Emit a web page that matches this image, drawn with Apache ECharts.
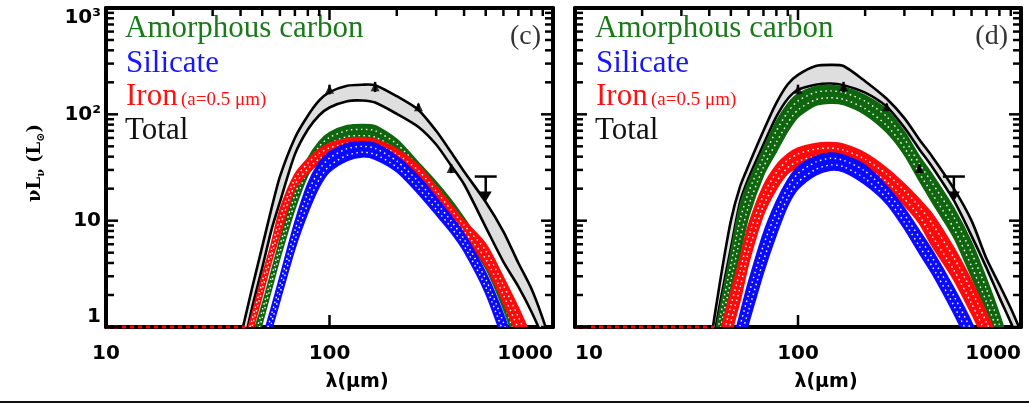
<!DOCTYPE html>
<html><head><meta charset="utf-8">
<script src="https://cdn.jsdelivr.net/npm/echarts@6/dist/echarts.min.js"></script>
<style>html,body{margin:0;padding:0;background:#fff}#chart{width:1029px;height:404px}</style>
</head><body><div id="chart"></div>
<script>
// ---------- data ----------
const wavelengths = [40,45,50,55,60,70,80,90,100,120,140,160,200,250,300,350,400,500,600,700,800,900,1000];

// panel (c)
const cTotalHi  = [0.8,2.3,5.7,13,26,60,97,135,162,186,190,188,148,110,70,44,29,15,7.9,4.0,2.3,1.2,0.6];
const cTotalLo  = [0.5,1.5,3.6,8.2,15,42,72,98,116,133,135,129,101,76,52,33,22,8.7,4.1,2.4,1.4,0.8,0.45];
const cCarbonHi = [0.4,0.8,1.6,3.3,6.5,20,38,55,67,78,80,78,58,35,23,15.5,10.5,5.2,2.3,0.85,0.35,0.15,0.07];
const cCarbonLo = [0.25,0.5,1.1,2.3,4.5,13,27,40,48,56,57,55,42,27,17,11,7.5,3.6,1.5,0.6,0.25,0.1,0.05];
const cIronHi   = [0.55,1.3,3.0,6.0,12.5,27,38,47,53,59,60,58,47,33,21,14,10,6,2.9,1.5,0.8,0.45,0.25];
const cIronLo   = [0.35,0.9,2.0,4.2,7.5,20,28,35,39,43,44,42,33,23,15,10,7.2,3.8,1.7,0.8,0.4,0.2,0.1];
const cSilHi    = [0.15,0.35,0.75,1.5,2.9,9.5,22,35,44,53,55,53,40,26,16.5,11,7.5,3.2,1.3,0.5,0.2,0.08,0.04];
const cSilLo    = [0.08,0.2,0.45,0.95,1.8,5.5,12,21,29,37,40,38,29,18,11.5,7.8,5.2,2.1,0.75,0.3,0.12,0.05,0.02];

// panel (d)
const dTotalHi  = [0.6,2.9,10,21,33,70,128,192,235,285,292,285,205,140,92,58,40,20,10,4.4,2.5,1.5,0.9];
const dTotalLo  = [0.45,1.8,5.5,15,25,52,95,140,170,190,195,188,160,118,75,47,32,15.5,7.2,3.6,1.9,1.1,0.65];
const dCarbonHi = [0.4,1.6,5,14,23,47,85,125,155,182,186,180,150,110,68,40,27,13,6.2,2.8,1.3,0.6,0.3];
const dCarbonLo = [0.2,0.8,2.1,5,11,27,45,70,95,122,128,124,100,68,42,24,15,7,3.0,1.4,0.65,0.3,0.15];
const dIronHi   = [0.3,0.9,2.1,4.4,9,21,33,42,48,53,54,52,43,31,22,15.8,11.5,5.5,2.7,1.35,0.7,0.35,0.18];
const dIronLo   = [0.1,0.3,0.85,1.8,4.0,11.5,20,28,32,36,37,35,28,20.5,14,9.5,5.8,2.8,1.35,0.7,0.4,0.22,0.12];
const dSilHi    = [0.05,0.2,0.6,1.3,2.6,7.5,15,24,32,40,43,41,33,21,13,8,5.2,2.3,1.1,0.5,0.22,0.1,0.05];
const dSilLo    = [0.02,0.07,0.25,0.6,1.1,3.3,7.5,14,20,27,30,29,22,14.5,8.5,5.0,3.2,1.35,0.6,0.25,0.1,0.04,0.02];

// observations (same in both panels)
const obsWave = [100,160,250,350];
const obsFlux = [172,182,118,31];
const obsErr  = [18,20,8,3];
const ulWave = [500];
const ulFlux = [26];
const ulArrowTo = [15.5];
const floorWave = [10,42];

// ticks
const xMajorTicks = [10,100,1000];
const xMinorTicks = [20,30,40,50,60,70,80,90,200,300,400,500,600,700,800,900];
const yMajorTicks = [1,10,100,1000];
const yTickLabels = ['1','10','10²','10³'];
const yMinorTicks = [2,3,4,5,6,7,8,9,20,30,40,50,60,70,80,90,200,300,400,500,600,700,800,900];

// ---------- layout ----------
const grids = [
  {left:106, top:8, width:447, height:319},
  {left:575, top:8, width:446, height:319}
];
const BLACK = '#000';
const AXW = 4;
const tickFont = {color:BLACK, fontFamily:'DejaVu Sans', fontWeight:'bold', fontSize:20};

const xAxes = [], yAxes = [];
grids.forEach((g, gi) => {
  const base = {type:'log', logBase:10, min:10, max:1000, gridIndex:gi, splitLine:{show:false}, minorTick:{show:false}, axisTick:{show:false}};
  xAxes.push(Object.assign({}, base, {
    position:'bottom',
    axisLine:{show:true, lineStyle:{color:BLACK, width:AXW}},
    axisLabel:{show:true, margin:17, alignMinLabel: gi === 1 ? 'left' : 'center', alignMaxLabel:'right',
      formatter: v => String(Math.round(v)), ...tickFont}
  }));
  xAxes.push(Object.assign({}, base, {
    position:'top',
    axisLine:{show:true, lineStyle:{color:BLACK, width:AXW}},
    axisLabel:{show:false}
  }));
  const ybase = {type:'log', logBase:10, min:1, max:1000, gridIndex:gi, splitLine:{show:false}, minorTick:{show:false}, axisTick:{show:false}};
  yAxes.push(Object.assign({}, ybase, {
    position:'left',
    axisLine:{show:true, lineStyle:{color:BLACK, width:AXW}},
    axisLabel:{show: gi === 0, margin:5, verticalAlignMinLabel:'bottom', verticalAlignMaxLabel:'top',
      formatter: v => yTickLabels[Math.round(Math.log10(v))], ...tickFont}
  }));
  yAxes.push(Object.assign({}, ybase, {
    position:'right',
    axisLine:{show:true, lineStyle:{color:BLACK, width:AXW}},
    axisLabel:{show:false}
  }));
});

// ---------- series builders ----------
function clipRect(cs){ return {type:'rect', shape:{x:cs.x, y:cs.y, width:cs.width, height:cs.height}}; }
const SMOOTH = 0.25;

function bandSeries(gi, hi, lo, fill, edge, edgeW, dotted, z) {
  return {
    type:'custom', xAxisIndex:gi*2, yAxisIndex:gi*2, z:z, silent:true,
    data:[[100,10]],
    renderItem:function(params, api){
      const top = wavelengths.map((w,i) => api.coord([w, hi[i]]));
      const bot = wavelengths.map((w,i) => api.coord([w, lo[i]]));
      const children = [
        {type:'polygon', shape:{points: top.concat(bot.slice().reverse()), smooth:SMOOTH}, style:{fill:fill, stroke:null}},
        {type:'polyline', shape:{points: top, smooth:SMOOTH}, style:{stroke:edge, lineWidth:edgeW, fill:null}},
        {type:'polyline', shape:{points: bot, smooth:SMOOTH}, style:{stroke:edge, lineWidth:edgeW, fill:null}}
      ];
      if (dotted) {
        [0.3, 0.7].forEach(f => {
          const mid = wavelengths.map((w,i) => api.coord([w, Math.pow(hi[i], f) * Math.pow(lo[i], 1 - f)]));
          children.push({type:'polyline', shape:{points: mid, smooth:SMOOTH},
            style:{stroke:'#ffffff', lineWidth:1.4, lineDash:[1.5, 3.5], fill:null}});
        });
      }
      return {type:'group', children:children, clipPath:clipRect(params.coordSys)};
    }
  };
}

// tick marks drawn through the axis scales (one data item per tick)
function tickSeries(gi) {
  const items = [];
  yMajorTicks.forEach(v => { items.push([10, v, 0, 12]); items.push([1000, v, 1, 12]); });
  yMinorTicks.forEach(v => { items.push([10, v, 0, 8]); items.push([1000, v, 1, 8]); });
  xMajorTicks.forEach(w => { items.push([w, 1, 2, 12]); items.push([w, 1000, 3, 12]); });
  xMinorTicks.forEach(w => { items.push([w, 1000, 3, 8]); });
  return {
    type:'custom', xAxisIndex:gi*2, yAxisIndex:gi*2, z:20, silent:true,
    data: items,
    renderItem:function(params, api){
      const p = api.coord([api.value(0), api.value(1)]);
      const side = api.value(2), len = api.value(3);
      let x2 = p[0], y2 = p[1];
      if (side === 0) x2 = p[0] + len;
      else if (side === 1) x2 = p[0] - len;
      else if (side === 2) y2 = p[1] - len;
      else y2 = p[1] + len;
      return {type:'line', shape:{x1:p[0], y1:p[1], x2:x2, y2:y2}, style:{stroke:'#000000', lineWidth:2.5}};
    }
  };
}

function obsSeries(gi) {
  return [{
    type:'custom', xAxisIndex:gi*2, yAxisIndex:gi*2, z:9, silent:true,
    data: obsWave.map((w,i) => [w, obsFlux[i], obsErr[i]]),
    renderItem:function(params, api){
      const w = api.value(0), f = api.value(1), e = api.value(2);
      const a = api.coord([w, f + e]), b = api.coord([w, f - e]);
      return {type:'line', shape:{x1:a[0], y1:a[1], x2:b[0], y2:b[1]}, style:{stroke:BLACK, lineWidth:2.5}};
    }
  }, {
    type:'scatter', xAxisIndex:gi*2, yAxisIndex:gi*2, z:10, silent:true,
    symbol:'triangle', symbolSize:9, itemStyle:{color:BLACK},
    data: obsWave.map((w,i) => [w, obsFlux[i]])
  }, {
    type:'custom', xAxisIndex:gi*2, yAxisIndex:gi*2, z:10, silent:true,
    data: ulWave.map((w,i) => [w, ulFlux[i], ulArrowTo[i]]),
    renderItem:function(params, api){
      const w = api.value(0);
      const t = api.coord([w, api.value(1)]), b = api.coord([w, api.value(2)]);
      return {type:'group', children:[
        {type:'line', shape:{x1:t[0]-11, y1:t[1], x2:t[0]+11, y2:t[1]}, style:{stroke:BLACK, lineWidth:2.5}},
        {type:'line', shape:{x1:t[0], y1:t[1], x2:b[0], y2:b[1]-6}, style:{stroke:BLACK, lineWidth:2.5}},
        {type:'polygon', shape:{points:[[b[0]-6, b[1]-9],[b[0]+6, b[1]-9],[b[0], b[1]+1]]}, style:{fill:BLACK}}
      ]};
    }
  }, {
    type:'line', xAxisIndex:gi*2, yAxisIndex:gi*2, z:11, silent:true, clip:false,
    symbol:'none', data: floorWave.map(w => [w, 1]),
    lineStyle:{color:'#ff0000', width:3, type:[4,4]}
  }];
}

const GREEN = '#0f660f', BLUE = '#0a0aff', RED = '#ff0a0a';
const panels = [
  {tHi:cTotalHi, tLo:cTotalLo, cHi:cCarbonHi, cLo:cCarbonLo, iHi:cIronHi, iLo:cIronLo, sHi:cSilHi, sLo:cSilLo},
  {tHi:dTotalHi, tLo:dTotalLo, cHi:dCarbonHi, cLo:dCarbonLo, iHi:dIronHi, iLo:dIronLo, sHi:dSilHi, sLo:dSilLo}
];
const series = [];
panels.forEach((p, gi) => {
  series.push(bandSeries(gi, p.tHi, p.tLo, '#dedede', BLACK, 2.6, false, 2));
  series.push(bandSeries(gi, p.cHi, p.cLo, GREEN, GREEN, 2, true, 3));
  series.push(bandSeries(gi, p.iHi, p.iLo, RED, RED, 2, true, 4));
  series.push(bandSeries(gi, p.sHi, p.sLo, BLUE, BLUE, 2, true, 5));
  obsSeries(gi).forEach(s => series.push(s));
  series.push(tickSeries(gi));
});

// ---------- text ----------
const serif = '"Liberation Serif", "DejaVu Serif", serif';
function legendTexts(ox, tag, tagX) {
  return [
    {type:'text', x:ox, y:29, style:{text:'Amorphous carbon', fill:'#1a7a1a', font:'31px ' + serif, verticalAlign:'middle'}},
    {type:'text', x:ox + 1, y:64, style:{text:'Silicate', fill:'#1515ff', font:'31px ' + serif, verticalAlign:'middle'}},
    {type:'text', x:ox + 1, y:97, style:{text:'Iron', fill:'#ff1010', font:'31px ' + serif, verticalAlign:'middle'}},
    {type:'text', x:ox + 56, y:100, style:{text:'(a=0.5 μm)', fill:'#ff1010', font:'19px ' + serif, verticalAlign:'middle'}},
    {type:'text', x:ox, y:131, style:{text:'Total', fill:'#111', font:'31px ' + serif, verticalAlign:'middle'}},
    {type:'text', x:tagX, y:37, style:{text:tag, fill:'#333', font:'28px ' + serif, align:'right', verticalAlign:'middle'}}
  ];
}
const graphics = [].concat(
  legendTexts(125, '(c)', 541),
  legendTexts(595, '(d)', 1008),
  [
    {type:'text', x:357, y:382, style:{text:'λ(μm)', fill:BLACK, font:'bold 19px "DejaVu Sans"', align:'center', verticalAlign:'middle'}},
    {type:'text', x:826, y:382, style:{text:'λ(μm)', fill:BLACK, font:'bold 19px "DejaVu Sans"', align:'center', verticalAlign:'middle'}},
    {type:'text', x:35, y:163, rotation:Math.PI/2, style:{
      text:'{b|νL}{s|ν}{b| (L}{s|⊙}{b|)}', align:'center', verticalAlign:'middle',
      rich:{b:{font:'bold 18px "DejaVu Serif"', fill:BLACK, verticalAlign:'bottom'},
            s:{font:'bold 11px "DejaVu Serif"', fill:BLACK, verticalAlign:'bottom', padding:[0,0,-3,0]}}}},
    {type:'rect', shape:{x:0, y:401, width:1029, height:2}, style:{fill:'#111'}}
  ]
);

const chart = echarts.init(document.getElementById('chart'), null, {renderer:'canvas'});
chart.setOption({
  animation:false,
  backgroundColor:'#ffffff',
  grid: grids.map(g => Object.assign({containLabel:false}, g)),
  xAxis: xAxes,
  yAxis: yAxes,
  series: series,
  graphic: graphics
});
</script></body></html>
